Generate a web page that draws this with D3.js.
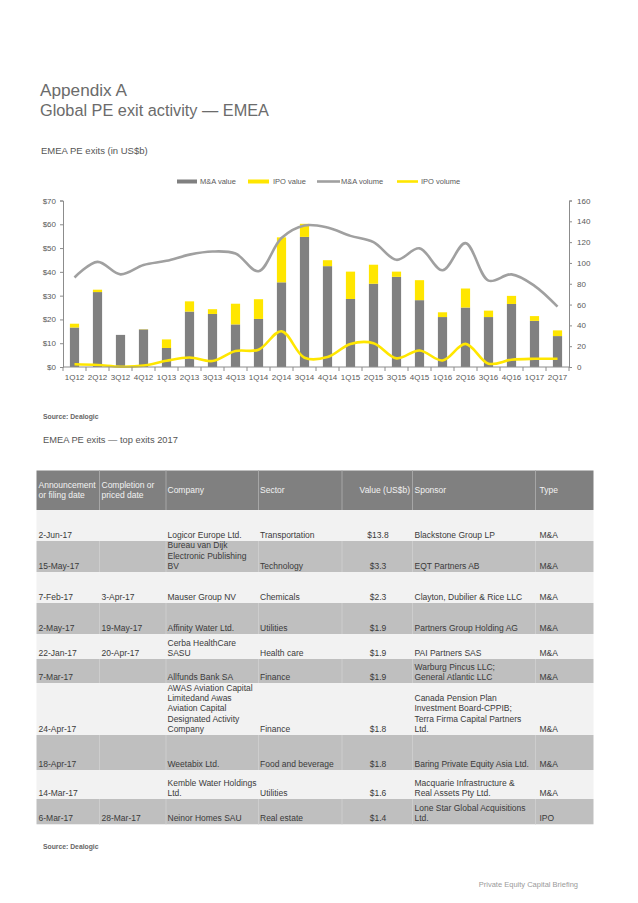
<!DOCTYPE html>
<html>
<head>
<meta charset="utf-8">
<script src="https://cdn.jsdelivr.net/npm/d3@7"></script>
<style>
  html, body { margin: 0; padding: 0; background: #fff; }
  svg { display: block; font-family: "Liberation Sans", Arial, sans-serif; }
</style>
</head>
<body>
<svg id="page" width="638" height="903"></svg>
<script>
// ---------------- DATA ----------------
const quarters = ["1Q12","2Q12","3Q12","4Q12","1Q13","2Q13","3Q13","4Q13","1Q14","2Q14","3Q14",
                  "4Q14","1Q15","2Q15","3Q15","4Q15","1Q16","2Q16","3Q16","4Q16","1Q17","2Q17"];
const maValue  = [16.6,31.5,13.5,15.8,8.0,23.3,22.3,17.9,20.2,35.6,54.7,42.4,28.6,35.0,37.9,28.1,21.0,25.0,21.0,26.5,19.4,13.0];
const ipoValue = [1.6,1.0,0.0,0.1,3.6,4.3,2.0,8.7,8.3,18.9,5.5,2.5,11.5,8.0,2.2,8.4,2.0,8.0,2.7,3.4,2.0,2.4];
const maVolume  = [86,101,89,98,102,108,111,109,92,124,136,134,126,120,103,114,93,119,83,89,78,58];
const ipoVolume = [2.6,1.9,0.3,1.3,6.0,9.2,5.7,15.3,16.6,34.4,8.9,9.5,22.2,22.9,8.3,15.9,6.3,22.2,3.2,7.0,7.9,7.9];
const leftTicks  = [0,10,20,30,40,50,60,70];
const rightTicks = [0,20,40,60,80,100,120,140,160];
const seriesNames = ["M&A value","IPO value","M&A volume","IPO volume"];

const headers = [["Announcement","or filing date"],["Completion or","priced date"],["Company"],["Sector"],["Value (US$b)"],["Sponsor"],["Type"]];
const announceDates = ["2-Jun-17","15-May-17","7-Feb-17","2-May-17","22-Jan-17","7-Mar-17","24-Apr-17","18-Apr-17","14-Mar-17","6-Mar-17"];
const completionDates = ["","","3-Apr-17","19-May-17","20-Apr-17","","","","","28-Mar-17"];
const companies = [["Logicor Europe Ltd."],["Bureau van Dijk","Electronic Publishing","BV"],["Mauser Group NV"],["Affinity Water Ltd."],
  ["Cerba HealthCare","SASU"],["Allfunds Bank SA"],["AWAS Aviation Capital","Limitedand Awas","Aviation Capital","Designated Activity","Company"],
  ["Weetabix Ltd."],["Kemble Water Holdings","Ltd."],["Neinor Homes SAU"]];
const sectors = ["Transportation","Technology","Chemicals","Utilities","Health care","Finance","Finance","Food and beverage","Utilities","Real estate"];
const dealValues = [13.8,3.3,2.3,1.9,1.9,1.9,1.8,1.8,1.6,1.4];
const sponsors = [["Blackstone Group LP"],["EQT Partners AB"],["Clayton, Dubilier & Rice LLC"],["Partners Group Holding AG"],["PAI Partners SAS"],
  ["Warburg Pincus LLC;","General Atlantic LLC"],["Canada Pension Plan","Investment Board-CPPIB;","Terra Firma Capital Partners","Ltd."],
  ["Baring Private Equity Asia Ltd."],["Macquarie Infrastructure &","Real Assets Pty Ltd."],["Lone Star Global Acquisitions","Ltd."]];
const dealTypes = ["M&A","M&A","M&A","M&A","M&A","M&A","M&A","M&A","M&A","IPO"];

// ---------------- LAYOUT / STYLE ----------------
const GREY = "#808080", YELLOW = "#ffe600", LINEGREY = "#a0a0a0", TXT = "#595959";
const svg = d3.select("#page");
svg.append("rect").attr("width",638).attr("height",903).attr("fill","#fff");

// Titles
svg.append("text").attr("x",40).attr("y",96).attr("font-size",17.2).attr("fill","#6b6b6b").text("Appendix A");
svg.append("text").attr("x",40).attr("y",116).attr("font-size",16.3).attr("fill","#6b6b6b").text("Global PE exit activity \u2014 EMEA");
svg.append("text").attr("x",41).attr("y",154).attr("font-size",9.5).attr("fill","#555").text("EMEA PE exits (in US$b)");

// ---------------- CHART ----------------
const x0 = 63, x1 = 569, yTop = 200.5, yBot = 367;
const x = d3.scaleBand().domain(quarters).range([x0,x1]).paddingInner(0.6).paddingOuter(0.3);
const yL = d3.scaleLinear().domain([0,70]).range([yBot,yTop]);
const yR = d3.scaleLinear().domain([0,160]).range([yBot,yTop]);

const g = svg.append("g");
const rows = quarters.map((q,i)=>({q, ma:maValue[i], ipo:ipoValue[i], mav:maVolume[i], ipov:ipoVolume[i]}));
g.selectAll(".ma").data(rows).join("rect")
  .attr("x",d=>x(d.q)).attr("width",x.bandwidth())
  .attr("y",d=>yL(d.ma)).attr("height",d=>yL(0)-yL(d.ma)).attr("fill",GREY);
g.selectAll(".ipo").data(rows.filter(d=>d.ipo>0)).join("rect")
  .attr("x",d=>x(d.q)).attr("width",x.bandwidth())
  .attr("y",d=>yL(d.ma+d.ipo)).attr("height",d=>yL(d.ma)-yL(d.ma+d.ipo)).attr("fill",YELLOW);

const cx = d=>x(d.q)+x.bandwidth()/2;
g.append("path").datum(rows)
  .attr("d", d3.line().x(cx).y(d=>yR(d.mav)).curve(d3.curveCatmullRom.alpha(0.5)))
  .attr("fill","none").attr("stroke",LINEGREY).attr("stroke-width",2.6);
g.append("path").datum(rows)
  .attr("d", d3.line().x(cx).y(d=>yR(d.ipov)).curve(d3.curveCatmullRom.alpha(0.5)))
  .attr("fill","none").attr("stroke",YELLOW).attr("stroke-width",2.6);

const axisStyle = sel => {
  sel.selectAll("path,line").attr("stroke","#8c8c8c");
  sel.selectAll("text").attr("fill",TXT).attr("font-size",8).attr("font-family","Liberation Sans, Arial, sans-serif");
};
svg.append("g").attr("transform",`translate(${x0},0)`)
  .call(d3.axisLeft(yL).tickValues(leftTicks).tickSize(3).tickSizeOuter(3).tickPadding(4).tickFormat(d=>"$"+d))
  .call(axisStyle);
svg.append("g").attr("transform",`translate(${x1},0)`)
  .call(d3.axisRight(yR).tickValues(rightTicks).tickSize(3).tickSizeOuter(3).tickPadding(5))
  .call(axisStyle);
const xb = svg.append("g").attr("transform",`translate(0,${yBot})`);
xb.append("line").attr("x1",x0).attr("x2",x1).attr("stroke","#8c8c8c");
const step = x.step();
const boundaries = quarters.map((q,i)=> x0 + i*step).concat([x1]);
xb.selectAll(".tk").data(boundaries).join("line")
  .attr("x1",d=>d).attr("x2",d=>d).attr("y1",0).attr("y2",4).attr("stroke","#8c8c8c");
xb.selectAll(".lbl").data(quarters).join("text")
  .attr("x",q=>x(q)+x.bandwidth()/2).attr("y",13).attr("text-anchor","middle")
  .attr("font-size",8).attr("fill",TXT).text(q=>q);

// legend
const leg = svg.append("g").attr("font-size",7.5).attr("fill",TXT);
const legItems = [
  {name:seriesNames[0], kind:"rect", color:GREY,     sx:177, sw:20, tx:200},
  {name:seriesNames[1], kind:"rect", color:YELLOW,   sx:248, sw:21, tx:273},
  {name:seriesNames[2], kind:"line", color:LINEGREY, sx:317, sw:23, tx:341},
  {name:seriesNames[3], kind:"line", color:YELLOW,   sx:397, sw:21, tx:421}
];
const ly = 181.5;
legItems.forEach(it=>{
  if(it.kind==="rect") leg.append("rect").attr("x",it.sx).attr("y",ly-2).attr("width",it.sw).attr("height",4).attr("fill",it.color);
  else leg.append("line").attr("x1",it.sx).attr("x2",it.sx+it.sw).attr("y1",ly).attr("y2",ly).attr("stroke",it.color).attr("stroke-width",2.6);
  leg.append("text").attr("x",it.tx).attr("y",ly+2.7).attr("fill",TXT).text(it.name);
});

svg.append("text").attr("x",43).attr("y",419).attr("font-size",6.8).attr("font-weight","bold").attr("fill","#666").text("Source: Dealogic");
svg.append("text").attr("x",43).attr("y",443).attr("font-size",9.3).attr("fill","#555").text("EMEA PE exits \u2014 top exits 2017");

// ---------------- TABLE ----------------
const colEdges = [36.5, 99.5, 166, 258.5, 342, 412.5, 535.5, 593.5];
const headTop = 470.5, headBot = 510;
const rowHeights = [31,31,31,31,25,24,52,35,29,25.3];
const t = svg.append("g").attr("font-size",8.5);
t.append("rect").attr("x",colEdges[0]).attr("y",headTop).attr("width",colEdges[7]-colEdges[0]).attr("height",headBot-headTop).attr("fill","#808080");

let yy = headBot;
const tableRows = announceDates.map((a,i)=>{
  const r = {i, top:yy, h:rowHeights[i], cells:[[a],[completionDates[i]],companies[i],[sectors[i]],["$"+dealValues[i].toFixed(1)],sponsors[i],[dealTypes[i]]]};
  yy += rowHeights[i];
  return r;
});
t.selectAll(".row").data(tableRows).join("rect")
  .attr("x",colEdges[0]).attr("y",d=>d.top).attr("width",colEdges[7]-colEdges[0]).attr("height",d=>d.h)
  .attr("fill",d=>d.i%2===0?"#f2f2f2":"#bfbfbf");
colEdges.slice(1,-1).forEach(cxp=>{
  t.append("line").attr("x1",cxp).attr("x2",cxp).attr("y1",headTop).attr("y2",headBot).attr("stroke","#a6a6a6").attr("stroke-width",1);
  tableRows.filter(r=>r.i%2===1).forEach(r=>{
    t.append("line").attr("x1",cxp).attr("x2",cxp).attr("y1",r.top).attr("y2",r.top+r.h).attr("stroke","#cdcdcd").attr("stroke-width",1);
  });
});

const textX = [38.5, 101.5, 167.5, 260, 378, 414.5, 539.5];
const LH = 10.3;
headers.forEach((lines,c)=>{
  const anchor = c===4 ? "end" : "start";
  const xx = c===4 ? 410 : textX[c];
  const base = lines.length===2 ? 487.7 : 493;
  lines.forEach((ln,k)=>{
    t.append("text").attr("x",xx).attr("y",base+k*10).attr("text-anchor",anchor).attr("fill","#f2f2f2").text(ln);
  });
});
tableRows.forEach(r=>{
  const bottom = r.top + r.h - 3;
  r.cells.forEach((lines,c)=>{
    const n = lines.length;
    lines.forEach((ln,k)=>{
      if(!ln) return;
      t.append("text").attr("x",textX[c]).attr("y",bottom-(n-1-k)*LH)
        .attr("text-anchor", c===4 ? "middle" : "start").attr("fill","#3a3a3a").text(ln);
    });
  });
});

svg.append("text").attr("x",43).attr("y",849).attr("font-size",6.8).attr("font-weight","bold").attr("fill","#666").text("Source: Dealogic");
svg.append("text").attr("x",578).attr("y",887).attr("text-anchor","end").attr("font-size",7.5).attr("fill","#9a9a9a").text("Private Equity Capital Briefing");
</script>
</body>
</html>
